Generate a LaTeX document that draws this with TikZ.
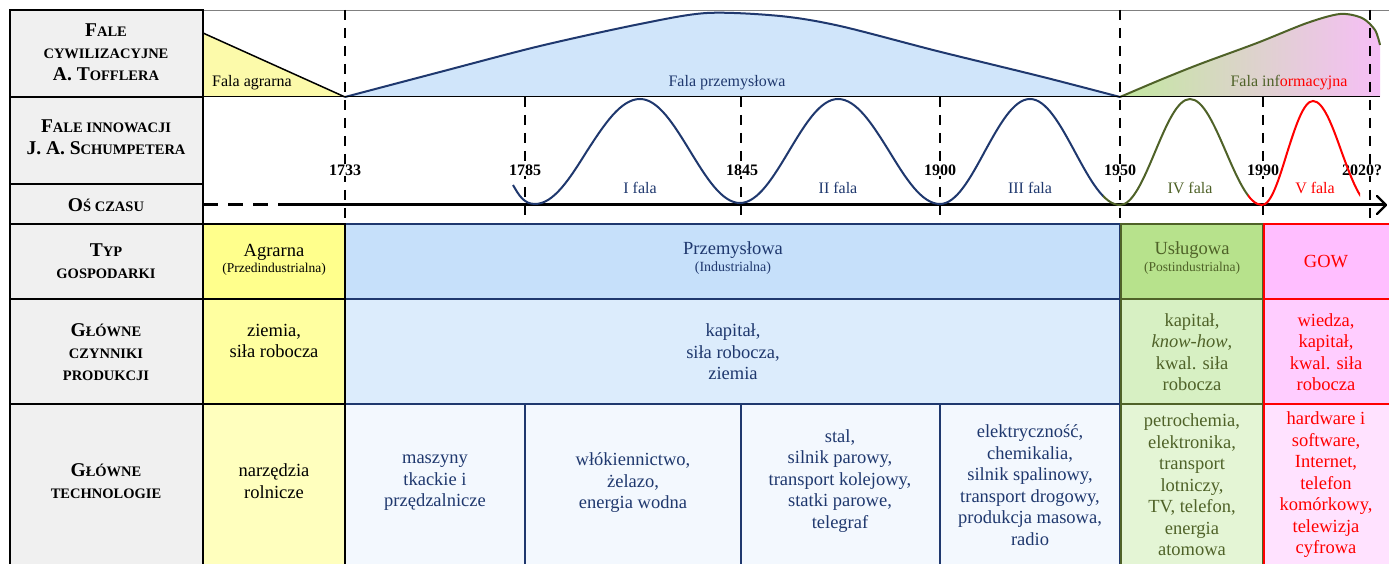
\documentclass[tikz,border=0pt]{standalone}
\usepackage{fontspec}
\setmainfont{Liberation Serif}
\usetikzlibrary{arrows.meta}
\definecolor{navy}{RGB}{31,56,110}
\definecolor{olive}{RGB}{79,98,40}
\definecolor{lblgray}{RGB}{240,240,240}
\definecolor{yA}{RGB}{255,255,140}
\definecolor{yB}{RGB}{255,255,160}
\definecolor{yC}{RGB}{255,255,190}
\definecolor{bA}{RGB}{198,224,250}
\definecolor{bB}{RGB}{220,236,252}
\definecolor{bC}{RGB}{243,248,254}
\definecolor{gA}{RGB}{183,226,140}
\definecolor{gB}{RGB}{215,240,195}
\definecolor{gC}{RGB}{228,245,213}
\definecolor{pA}{RGB}{255,190,255}
\definecolor{pB}{RGB}{255,205,255}
\definecolor{pC}{RGB}{255,226,255}
\definecolor{waveB}{RGB}{208,229,250}
\definecolor{waveG}{RGB}{195,232,160}
\definecolor{waveP}{RGB}{246,190,246}
\definecolor{waveY}{RGB}{252,250,170}
\newcommand{\Sm}[1]{{\fontsize{14.5}{22}\selectfont #1}}
\newcommand{\schwave}[1]{\draw[#1,line width=2]
  (513,185) to[out=-60,in=180] (535,204)
  cos (587,151) sin (640,99) cos (690,151) sin (740,203)
  cos (789,151) sin (838,99) cos (889,151) sin (940,204)
  cos (985,151) sin (1030,99) cos (1075,152) sin (1120,205)
  cos (1155,152) sin (1190,99) cos (1226,152) sin (1262,205)
  cos (1287,153) sin (1313,101) cos (1342,153) sin (1372,205);}
\tikzset{
  lbl/.style={font=\bfseries\fontsize{19.5}{22}\selectfont, align=center, inner sep=0},
  cell/.style={font=\fontsize{18.5}{21.5}\selectfont, align=center, inner sep=0},
  small/.style={font=\fontsize{16}{16}\selectfont, inner sep=0},
  year/.style={font=\bfseries\fontsize{16}{16}\selectfont, fill=white, inner sep=1pt},
  vdash/.style={line width=2.5pt, dash pattern=on 10pt off 8pt},
  lcell/.style={draw=black, line width=2.5pt, fill=lblgray},
}
\begin{document}
\begin{tikzpicture}[x=1pt,y=-1pt]
\useasboundingbox (0,0) rectangle (1389,564);
\clip (0,0) rectangle (1389,564);
\fill[white] (0,0) rectangle (1389,564);

% ---------- Toffler waves ----------
\fill[waveY] (203,33) -- (345,97) -- (203,97) -- cycle;
\draw[line width=1.5pt] (203,33) -- (345,97);
\fill[waveB] plot[smooth] coordinates {(345,97) (440,72) (540,46) (640,24) (707,13) (780,16) (840,26) (937,51) (1043,77) (1120,97)} -- cycle;
\draw[navy, line width=2pt] plot[smooth] coordinates {(345,97) (440,72) (540,46) (640,24) (707,13) (780,16) (840,26) (937,51) (1043,77) (1120,97)};
\shade[left color=waveG, right color=waveP] plot[smooth] coordinates {(1120,97) (1160,80) (1200,64) (1257,43) (1307,23) (1340,14) (1362,18) (1375,30) (1380,45)} -- (1380,97) -- cycle;
\draw[olive, line width=2pt] plot[smooth] coordinates {(1120,97) (1160,80) (1200,64) (1257,43) (1307,23) (1340,14) (1362,18) (1375,30) (1380,45)};
\draw[gray, line width=0.8pt] (203,10) -- (1389,10);
\draw[line width=1pt] (203,97) -- (1380,97);

\node[small] (fagr) at (252,83) {Fala agrarna};
\node[small, text=navy] (fprz) at (727,83) {Fala przemysłowa};
\node[small] (finf) at (1289,83) {\textcolor{olive}{Fala inf}\textcolor{red}{ormacyjna}};

% ---------- dashed year lines ----------
\coordinate (t1733) at (345,10);  \coordinate (b1733) at (345,223);
\coordinate (t1785) at (525,97);  \coordinate (b1785) at (525,223);
\coordinate (t1845) at (741,97);  \coordinate (b1845) at (741,223);
\coordinate (t1900) at (940,97);  \coordinate (b1900) at (940,223);
\coordinate (t1950) at (1120,10); \coordinate (b1950) at (1120,223);
\coordinate (t1990) at (1263,97); \coordinate (b1990) at (1263,223);
\coordinate (t2020) at (1370,10); \coordinate (b2020) at (1370,223);
\foreach \y in {1733,1785,1845,1900,1950,1990,2020}{\draw[vdash] (t\y) -- (b\y);}

\node[year] (y1733) at (345,170) {1733};
\node[year] (y1785) at (525,170) {1785};
\node[year] (y1845) at (742,170) {1845};
\node[year] (y1900) at (940,170) {1900};
\node[year] (y1950) at (1120,170) {1950};
\node[year] (y1990) at (1263,170) {1990};
\node[year] (y2020) at (1362,170) {2020?};

% ---------- time axis ----------
\coordinate (ax0) at (203,205);
\coordinate (ax1) at (288,205);
\coordinate (ax2) at (1386,205);
\draw[line width=3pt, dash pattern=on 15pt off 10pt] (ax0) -- (ax1);
\draw[draw=black, line width=3pt] (ax1) -- (ax2);
\draw[draw=black, line width=2.2pt, line cap=round, line join=round] ([shift={(-9,-9)}]ax2) -- (ax2) -- ([shift={(-9,9)}]ax2);

% ---------- Schumpeter waves ----------
\begin{scope}\clip (0,0) rectangle (1103,230); \schwave{navy} \end{scope}
\begin{scope}\clip (1103,0) rectangle (1248,230); \schwave{olive} \end{scope}
\begin{scope}\clip (1248,0) rectangle (1360,230); \schwave{red} \end{scope}

\node[small, text=navy] (w1) at (640,188) {I fala};
\node[small, text=navy] (w2) at (838,188) {II fala};
\node[small, text=navy] (w3) at (1030,188) {III fala};
\node[small, text=olive] (w4) at (1190,188) {IV fala};
\node[small, text=red] (w5) at (1315,188) {V fala};

% ---------- table cells ----------
\draw[navy, line width=2pt, fill=bA] (345,224) rectangle (1120,299);
\draw[navy, line width=2pt, fill=bB] (345,299) rectangle (1120,404);
\draw[navy, line width=2pt, fill=bC] (345,404) rectangle (525,580);
\draw[navy, line width=2pt, fill=bC] (525,404) rectangle (741,580);
\draw[navy, line width=2pt, fill=bC] (741,404) rectangle (940,580);
\draw[navy, line width=2pt, fill=bC] (940,404) rectangle (1120,580);
\draw[olive, line width=2pt, fill=gA] (1121,224) rectangle (1263,299);
\draw[olive, line width=2pt, fill=gB] (1121,299) rectangle (1263,404);
\draw[olive, line width=2pt, fill=gC] (1121,404) rectangle (1263,580);
\draw[red, line width=2pt, fill=pA] (1264,224) rectangle (1400,299);
\draw[red, line width=2pt, fill=pB] (1264,299) rectangle (1400,404);
\draw[red, line width=2pt, fill=pC] (1264,404) rectangle (1400,580);
\draw[black, line width=2pt, fill=yA] (203,224) rectangle (345,299);
\draw[black, line width=2pt, fill=yB] (203,299) rectangle (345,404);
\draw[black, line width=2pt, fill=yC] (203,404) rectangle (345,580);

% ---------- left labels ----------
\draw[lcell] (10,10) rectangle (203,97);
\draw[lcell] (10,97) rectangle (203,184);
\draw[lcell] (10,184) rectangle (203,224);
\draw[lcell] (10,224) rectangle (203,299);
\draw[lcell] (10,299) rectangle (203,404);
\draw[lcell] (10,404) rectangle (203,580);

\node[lbl] (l1) at (106,52) {F\Sm{ALE}\\\Sm{CYWILIZACYJNE}\\A. T\Sm{OFFLERA}};
\node[lbl] (l2) at (106,137) {F\Sm{ALE INNOWACJI}\\J. A. S\Sm{CHUMPETERA}};
\node[lbl] (l3) at (106,205) {O\Sm{Ś CZASU}};
\node[lbl] (l4) at (106,261) {T\Sm{YP}\\\Sm{GOSPODARKI}};
\node[lbl] (l5) at (106,352) {G\Sm{ŁÓWNE}\\\Sm{CZYNNIKI}\\\Sm{PRODUKCJI}};
\node[lbl] (l6) at (106,481) {G\Sm{ŁÓWNE}\\\Sm{TECHNOLOGIE}};

% ---------- table texts ----------
\node[cell] (tA) at (274,260) {Agrarna\\[-5pt]{\fontsize{13.5}{14}\selectfont (Przedindustrialna)}};
\node[cell, text=navy] (tP) at (733,258) {Przemysłowa\\[-5pt]{\fontsize{14}{14}\selectfont (Industrialna)}};
\node[cell, text=olive] (tU) at (1192,258) {Usługowa\\[-5pt]{\fontsize{13.5}{14}\selectfont (Postindustrialna)}};
\node[cell, text=red] (tG) at (1326,262) {GOW};

\node[cell] (cA) at (274,341) {ziemia,\\siła robocza};
\node[cell, text=navy] (cP) at (733,352) {kapitał,\\siła robocza,\\ziemia};
\node[cell, text=olive] (cU) at (1192,352) {kapitał,\\\textit{know-how},\\kwal. siła\\robocza};
\node[cell, text=red] (cG) at (1326,352) {wiedza,\\kapitał,\\kwal. siła\\robocza};

\node[cell] (eA) at (274,481) {narzędzia\\rolnicze};
\node[cell, text=navy] (e1) at (435,483) {maszyny\\tkackie i\\przędzalnicze};
\node[cell, text=navy] (e2) at (633,483) {włókiennictwo,\\żelazo,\\energia wodna};
\node[cell, text=navy] (e3) at (840,481) {stal,\\silnik parowy,\\transport kolejowy,\\statki parowe,\\telegraf};
\node[cell, text=navy] (e4) at (1030,485) {elektryczność,\\chemikalia,\\silnik spalinowy,\\transport drogowy,\\produkcja masowa,\\radio};
\node[cell, text=olive] (eU) at (1192,485) {petrochemia,\\elektronika,\\transport\\lotniczy,\\TV, telefon,\\energia\\atomowa};
\node[cell, text=red] (eG) at (1326,485) {hardware i\\software,\\Internet,\\telefon\\komórkowy,\\telewizja\\cyfrowa};
\end{tikzpicture}
\end{document}
